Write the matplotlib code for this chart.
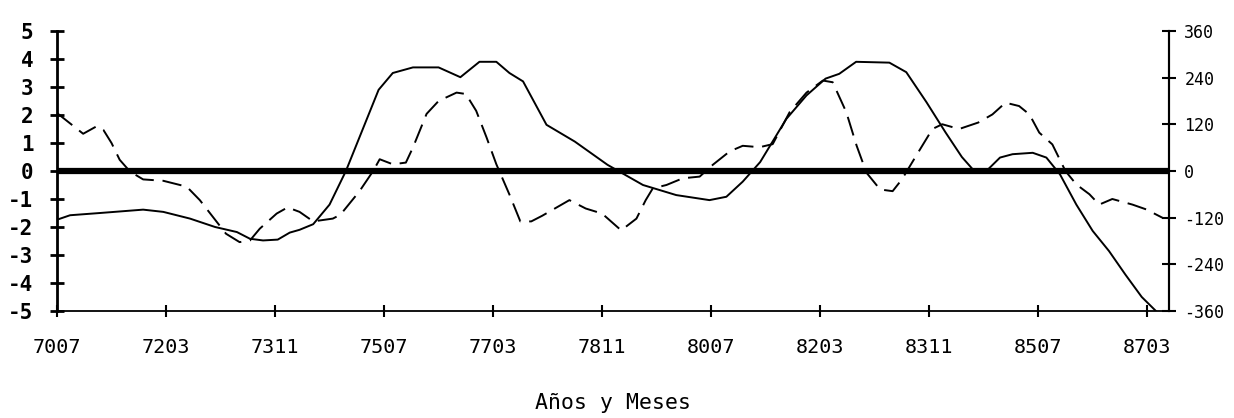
import matplotlib
matplotlib.use("Agg")
import matplotlib.pyplot as plt

# months counted from July 1970 (7007)
meses_a = [0, 2.4, 7.9, 15.8, 19.5, 24.4, 29, 33, 35.4, 37.8, 40.5, 42.7, 44.5, 47, 50, 53, 56, 59,
           61.6, 65.3, 70, 74, 77.5, 80.6, 83, 85.5, 89.8, 95, 101, 107.5, 113.6, 119.7, 122.8,
           125.8, 129, 133.8, 137.5, 141, 143.5, 146.6, 152.7, 155.8, 159.5, 163, 166, 168,
           170.5, 173, 175.3, 179, 181.5, 184, 187, 190, 193, 196, 199, 201.6]
serie_a = [-1.74, -1.58, -1.5, -1.38, -1.46, -1.7, -2.0, -2.18, -2.42, -2.48, -2.45, -2.2, -2.1,
           -1.9, -1.2, 0.0, 1.45, 2.9, 3.5, 3.7, 3.7, 3.35, 3.9, 3.9, 3.5, 3.2, 1.65, 1.05, 0.22,
           -0.5, -0.86, -1.04, -0.92, -0.38, 0.32, 1.86, 2.7, 3.3, 3.47, 3.9, 3.87, 3.53, 2.46,
           1.38, 0.5, 0.06, 0.0, 0.48, 0.6, 0.65, 0.48, -0.12, -1.2, -2.14, -2.86, -3.7, -4.5, -5.0]

meses_b = [0, 2.4, 4.8, 7.3, 8.5, 10, 11.5, 13.4, 15.8, 19.5, 23.8, 26.2, 28.6, 31, 33.5, 35.4,
           37.2, 40.3, 42.3, 44.5, 47, 50.6, 52, 55.5, 58, 59.2, 61.6, 64, 65.3, 67.8, 70, 73.3,
           75, 76.9, 78.8, 80.6, 83, 85, 87, 89, 94, 97, 100, 103.5, 106.3, 108, 109.3, 111.8,
           114.8, 117.9, 120.3, 123.4, 125.8, 128.9, 131.3, 134.4, 137.5, 140.5, 142.3, 144.8,
           146.7, 148.5, 151, 153.3, 155, 157.6, 160.6, 162.4, 165.5, 169, 171.6, 174, 176.5,
           178.4, 180.2, 182.6, 185, 187, 189.4, 191.2, 193.6, 197.3, 199.8, 202.8]
serie_b = [2.07, 1.7, 1.33, 1.6, 1.47, 1.0, 0.4, -0.02, -0.3, -0.35, -0.56, -1.04, -1.64, -2.24,
           -2.54, -2.48, -2.06, -1.52, -1.3, -1.46, -1.8, -1.7, -1.56, -0.72, 0.0, 0.42, 0.24,
           0.3, 0.84, 2.04, 2.5, 2.8, 2.75, 2.15, 1.2, 0.24, -0.84, -1.8, -1.8, -1.6, -1.04,
           -1.34, -1.52, -2.12, -1.7, -1.04, -0.62, -0.5, -0.26, -0.2, 0.22, 0.7, 0.9, 0.85,
           0.96, 2.1, 2.8, 3.23, 3.17, 2.1, 0.9, -0.06, -0.66, -0.72, -0.3, 0.54, 1.5, 1.67,
           1.5, 1.73, 2.02, 2.44, 2.32, 2.02, 1.37, 0.95, 0.0, -0.48, -0.83, -1.2, -1.0, -1.2,
           -1.37, -1.67]

x_ticks = [0, 20, 40, 60, 80, 100, 120, 140, 160, 180, 200]
x_labels = ["7007", "7203", "7311", "7507", "7703", "7811", "8007", "8203", "8311", "8507", "8703"]
y_left_ticks = [5, 4, 3, 2, 1, 0, -1, -2, -3, -4, -5]
y_right_ticks = [360, 240, 120, 0, -120, -240, -360]
x_title = "Años y Meses"

fig = plt.figure(figsize=(12.34, 4.18), dpi=100)
ax = fig.add_axes([57 / 1234, 1 - 311 / 418, (1169 - 57) / 1234, (311 - 31) / 418])

ax.plot(meses_a, serie_a, color="black", lw=1.4, solid_joinstyle="round", solid_capstyle="round")
ax.plot(meses_b, serie_b, color="black", lw=1.4, dashes=(10, 4.5), dash_joinstyle="round")
ax.axhline(0, color="black", lw=4.5, zorder=3)

ax.set_xlim(0, 204)
ax.set_ylim(-5, 5)
ax.spines["top"].set_visible(False)
ax.spines["left"].set_linewidth(2)
ax.spines["bottom"].set_linewidth(1.3)
ax.spines["right"].set_linewidth(1.5)

ax.set_yticks(y_left_ticks)
ax.set_yticklabels([str(v) for v in y_left_ticks], fontfamily="DejaVu Sans Mono",
                   fontweight="bold", fontsize=15)
ax.tick_params(axis="y", direction="inout", length=10, width=2, pad=12)
ax.set_xticks(x_ticks)
ax.set_xticklabels(x_labels, fontfamily="DejaVu Sans Mono", fontsize=14.5)
ax.tick_params(axis="x", direction="inout", length=9, width=1.5, pad=15)
ax.set_xlabel(x_title, fontfamily="DejaVu Sans Mono", fontsize=15.5, labelpad=26)

ax2 = ax.twinx()
ax2.set_ylim(-360, 360)
ax2.set_yticks(y_right_ticks)
ax2.set_yticklabels([str(v) for v in y_right_ticks], fontfamily="DejaVu Sans Mono", fontsize=12)
ax2.tick_params(axis="y", direction="inout", length=10, width=1.5, pad=6)
for s in ["top", "left", "bottom"]:
    ax2.spines[s].set_visible(False)
ax2.spines["right"].set_linewidth(1.5)

fig.savefig("out.png", dpi=100)
